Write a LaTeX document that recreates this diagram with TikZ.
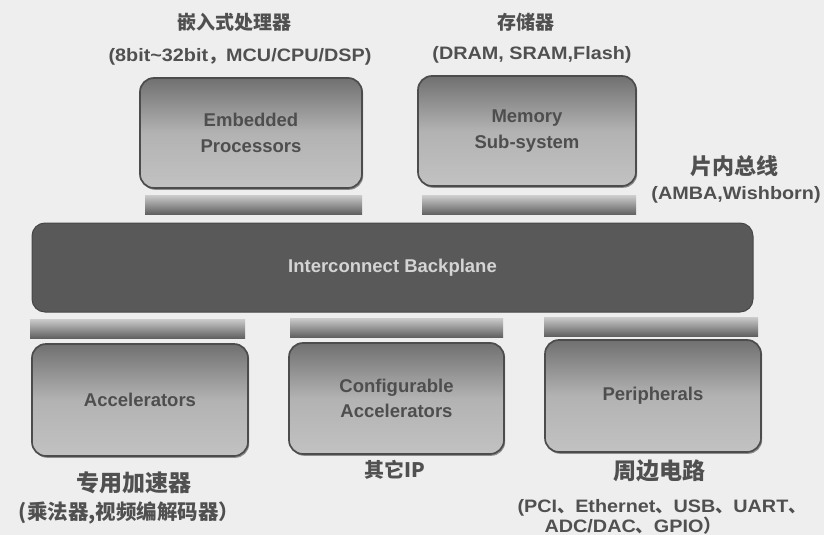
\documentclass[tikz,border=0pt]{standalone}
\usepackage{fontspec}
\setmainfont{Liberation Sans}
\newfontfamily\widesans{Liberation Sans}[FakeStretch=1.1]
\newfontfamily\cjk{Noto Sans CJK SC}
\usetikzlibrary{shadows}
\definecolor{bg}{HTML}{EEEEEE}
\definecolor{lbl}{HTML}{505050}
\definecolor{boxtxt}{HTML}{4E4E4E}
\definecolor{bpfill}{HTML}{595959}
\definecolor{bptxt}{HTML}{D4D4D4}
\tikzset{
  blockbox/.style={rounded corners=14pt, draw=black!70, line width=1.7pt,
    top color=black!56, bottom color=black!24, middle color=black!30,
    drop shadow={shadow xshift=1.2pt, shadow yshift=-1.8pt, fill=black!60, opacity=.7},
    inner sep=0pt, align=center, text=boxtxt,
    font=\bfseries\fontsize{18.5}{25.5}\selectfont},
  backplane/.style={rounded corners=13pt, draw=black!72, line width=1pt, fill=bpfill,
    inner sep=0pt, text=bptxt, font=\bfseries\fontsize{18.5}{22}\selectfont},
  busbar/.style={top color=black!20, bottom color=black!62, inner sep=0pt, draw=none},
  cnlabel/.style={text=lbl, inner sep=0pt, font=\cjk\bfseries\fontsize{19}{22}\selectfont},
  enlabel/.style={text=lbl, inner sep=0pt, font=\widesans\bfseries\fontsize{18}{20}\selectfont}
}
\begin{document}
\begin{tikzpicture}[x=1pt,y=-1pt]
\useasboundingbox (0,0) rectangle (824,535);
\fill[bg] (0,0) rectangle (824,535);
% top blocks
\node[blockbox, minimum width=222pt, minimum height=110pt] (emb) at (251,133) {Embedded\\Processors};
\node[blockbox, minimum width=218pt, minimum height=110pt] (mem) at (527,131) {Memory\\Sub-system};
\node[busbar, minimum width=217pt, minimum height=19pt] (bar1) at (253.5,204.5) {};
\node[busbar, minimum width=214pt, minimum height=19pt] (bar2) at (529,205) {};
% backplane
\node[backplane, minimum width=721pt, minimum height=89pt] (bp) at (392.5,267.5) {Interconnect Backplane};
% lower bars
\node[busbar, minimum width=215pt, minimum height=19pt] (bar3) at (137.5,328.5) {};
\node[busbar, minimum width=213pt, minimum height=19pt] (bar4) at (396.5,327.5) {};
\node[busbar, minimum width=214pt, minimum height=19pt] (bar5) at (651,326.5) {};
% lower blocks
\node[blockbox, minimum width=216pt, minimum height=112pt] (acc) at (140,400) {Accelerators};
\node[blockbox, minimum width=215pt, minimum height=111pt] (cfg) at (396.5,398.5) {Configurable\\Accelerators};
\node[blockbox, minimum width=216pt, minimum height=112pt] (per) at (653,396) {Peripherals};
% labels
\node[cnlabel] (t1) at (234,22) {嵌入式处理器};
\node[enlabel] (t1b) at (240,57) {(8bit\textasciitilde32bit{\cjk ，}MCU/CPU/DSP)};
\node[cnlabel] (t2) at (526,22) {存储器};
\node[enlabel] (t2b) at (532,55) {(DRAM, SRAM,Flash)};
\node[cnlabel, font=\cjk\bfseries\fontsize{22}{24}\selectfont] (t3) at (734,166) {片内总线};
\node[enlabel] (t3b) at (736,195) {(AMBA,Wishborn)};
\node[cnlabel, font=\cjk\bfseries\fontsize{23}{25}\selectfont] (t4) at (134,483) {专用加速器};
\node[cnlabel, font=\cjk\bfseries\fontsize{20.5}{22}\selectfont] (t4b) at (129,513) {(乘法器,视频编解码器）};
\node[cnlabel, font=\cjk\bfseries\fontsize{20}{22}\selectfont] (t5) at (395,470) {其它IP};
\node[cnlabel, font=\cjk\bfseries\fontsize{23}{25}\selectfont] (t6) at (659,471) {周边电路};
\node[enlabel] (t6b) at (662,508) {(PCI{\cjk 、}Ethernet{\cjk 、}USB{\cjk 、}UART{\cjk 、}};
\node[enlabel] (t6c) at (633,526) {ADC/DAC{\cjk 、}GPIO{\cjk ）}};
\end{tikzpicture}
\end{document}
